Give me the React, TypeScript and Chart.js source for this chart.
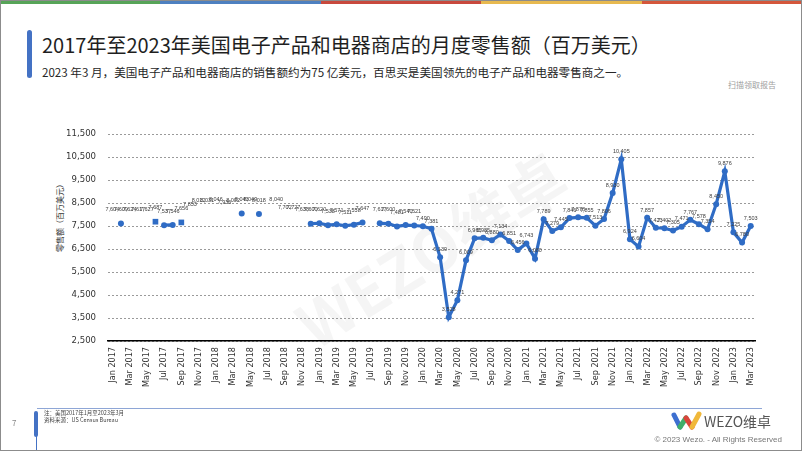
import React, { useEffect, useRef } from "react";
import { Chart, registerables } from "chart.js";

Chart.register(...registerables);

// ---------- data ----------
const monthNames = ["Jan", "Feb", "Mar", "Apr", "May", "Jun", "Jul", "Aug", "Sep", "Oct", "Nov", "Dec"];
const startYear = 2017;
const monthCount = 75; // Jan 2017 .. Mar 2023
const categories: string[] = Array.from(
  { length: monthCount },
  (_, i) => `${monthNames[i % 12]} ${startYear + Math.floor(i / 12)}`
);

// Monthly retail sales, electronics & appliance stores (million USD)
const salesValues: (number | null)[] = [
  // 2017
  7604, 7609, 7624, 7617, 7627, 7687, 7537, 7546, 7656, 7853, 8012, 8031,
  // 2018
  8046, 7936, 8002, 8043, 8049, 8018, null, 8040, 7702, 7727, 7638, 7600,
  // 2019
  7620, 7538, 7571, 7511, 7558, 7647, null, 7617, 7600, 7481, 7540, 7521,
  // 2020
  7490, 7381, 6139, 3528, 4271, 6009, 6965, 6985, 6880, 7134, 6851, 6456,
  // 2021
  6743, 6080, 7789, 7279, 7445, 7846, 7878, 7855, 7513, 7806, 8930, 10405,
  // 2022
  6924, 6604, 7857, 7423, 7402, 7305, 7471, 7767, 7578, 7354, 8450, 9876,
  // 2023
  7225, 6780, 7503,
];

// months whose value only shows as a data label (no marker, no line)
const labelOnlyMonths = [0, 2, 3, 4, 9, 10, 11, 12, 13, 14, 16, 19, 20, 21, 22];
// months shown as a square marker without connecting line
const squareMonths = [5, 8];

const yMin = 2500;
const yMax = 11500;
const yStep = 1000;

const LINE_COLOR = "#2f6cc5";

const valueLabelPlugin = {
  id: "valueLabels",
  afterDatasetsDraw(chart: any) {
    const meta = chart.getDatasetMeta(0);
    const ctx = chart.ctx;
    ctx.save();
    ctx.font = '5.5px "Liberation Sans", Arial, sans-serif';
    ctx.fillStyle = "#404040";
    ctx.textAlign = "center";
    ctx.textBaseline = "bottom";
    meta.data.forEach((pt: any, i: number) => {
      const v = salesValues[i];
      if (v == null) return;
      const off = i < 36 ? 11 : 5;
      ctx.fillText(v.toLocaleString("en-US"), pt.x, pt.y - off);
    });
    ctx.restore();
  },
};

export default function App() {
  const canvasRef = useRef<HTMLCanvasElement>(null);

  useEffect(() => {
    const noLine = (i: number) => labelOnlyMonths.includes(i) || squareMonths.includes(i);
    const chart = new Chart(canvasRef.current as HTMLCanvasElement, {
      type: "line",
      data: {
        labels: categories,
        datasets: [
          {
            data: salesValues,
            borderColor: LINE_COLOR,
            backgroundColor: LINE_COLOR,
            borderWidth: 3.2,
            pointRadius: salesValues.map((_, i) =>
              labelOnlyMonths.includes(i) ? 0 : squareMonths.includes(i) ? 4 : 3
            ),
            pointStyle: salesValues.map((_, i) => (squareMonths.includes(i) ? "rect" : "circle")) as any,
            pointBackgroundColor: LINE_COLOR,
            pointBorderColor: LINE_COLOR,
            pointBorderWidth: 0,
            tension: 0,
            spanGaps: false,
            segment: {
              borderColor: (ctx: any) =>
                noLine(ctx.p0DataIndex) || noLine(ctx.p1DataIndex) ? "rgba(0,0,0,0)" : LINE_COLOR,
            },
          },
        ],
      },
      options: {
        responsive: false,
        animation: false,
        devicePixelRatio: 1,
        layout: { padding: { left: 0, top: 134, right: 47, bottom: 50 } },
        plugins: { legend: { display: false }, tooltip: { enabled: false }, title: { display: false } },
        scales: {
          x: {
            type: "category",
            offset: true,
            grid: { display: false, drawTicks: false },
            border: { display: true, color: "#000000", width: 1.5 },
            ticks: {
              autoSkip: false,
              maxRotation: 90,
              minRotation: 90,
              padding: 6,
              color: "#333333",
              font: { family: '"DejaVu Sans Condensed", "DejaVu Sans", sans-serif', size: 9 },
              callback: (_v: any, i: number) => (i % 2 === 0 ? categories[i] : ""),
            },
            afterFit: (scale: any) => {
              scale.height = 60;
            },
          },
          y: {
            min: yMin,
            max: yMax,
            grid: { color: "#9a9a9a", lineWidth: 1, drawTicks: false },
            border: { display: false, dash: [2, 2] },
            ticks: {
              stepSize: yStep,
              padding: 12,
              color: "#333333",
              font: { family: '"DejaVu Sans Condensed", "DejaVu Sans", sans-serif', size: 9.5 },
              callback: (v: any) => Number(v).toLocaleString("en-US"),
            },
            afterFit: (scale: any) => {
              scale.width = 108;
            },
          },
        },
      },
      plugins: [valueLabelPlugin],
    } as any);
    return () => chart.destroy();
  }, []);

  const cjk = '"Noto Sans CJK SC", "Noto Sans", sans-serif';
  const barColors = ["#57a458", "#4e80c0", "#c8493d", "#e7b94f", "#d4573b"];

  return (
    <div
      style={{
        position: "fixed",
        left: 0,
        top: 0,
        width: 802,
        height: 451,
        background: "#ffffff",
        overflow: "hidden",
        fontFamily: cjk,
      }}
    >
      {/* top colour bar */}
      {barColors.map((c, i) => (
        <div
          key={c}
          style={{ position: "absolute", top: 0, left: i * 160.4, width: 160.4, height: 4, background: c }}
        />
      ))}

      {/* title */}
      <div
        style={{ position: "absolute", left: 27, top: 30, width: 5, height: 48, borderRadius: 3, background: "#4472c4" }}
      />
      <div
        style={{
          position: "absolute",
          left: 42,
          top: 32,
          fontSize: 20,
          lineHeight: "26px",
          color: "#1f1f1f",
          whiteSpace: "nowrap",
        }}
      >
        2017年至2023年美国电子产品和电器商店的月度零售额（百万美元）
      </div>
      <div
        style={{
          position: "absolute",
          left: 42,
          top: 64,
          fontSize: 11.6,
          lineHeight: "16px",
          color: "#262626",
          whiteSpace: "nowrap",
        }}
      >
        2023 年3 月，美国电子产品和电器商店的销售额约为75 亿美元，百思买是美国领先的电子产品和电器零售商之一。
      </div>
      <div
        style={{ position: "absolute", right: 26, top: 79, fontSize: 8, lineHeight: "12px", color: "#a0a0a0" }}
      >
        扫描领取报告
      </div>

      {/* watermark */}
      <div
        style={{
          position: "absolute",
          left: 430,
          top: 248,
          transform: "translate(-50%, -50%) rotate(-32deg)",
          fontSize: 62,
          fontWeight: 700,
          color: "rgba(0,0,0,0.04)",
          whiteSpace: "nowrap",
          fontFamily: '"Noto Sans CJK SC", sans-serif',
        }}
      >
        WEZO维卓
      </div>

      {/* y-axis title */}
      <div
        style={{
          position: "absolute",
          left: 60,
          top: 216,
          transform: "translate(-50%, -50%) rotate(-90deg)",
          fontSize: 8,
          lineHeight: "10px",
          color: "#333",
          whiteSpace: "nowrap",
        }}
      >
        零售额（百万美元）
      </div>

      <canvas
        ref={canvasRef}
        width={802}
        height={451}
        style={{ position: "absolute", left: 0, top: 0, width: 802, height: 451 }}
      />

      {/* footer */}
      <div style={{ position: "absolute", left: 37, top: 408, width: 725, height: 1, background: "#8ea6d6" }} />
      <div
        style={{ position: "absolute", left: 34, top: 411, width: 4, height: 26, borderRadius: 2, background: "#4472c4" }}
      />
      <div style={{ position: "absolute", left: 35.5, top: 436, width: 1, height: 15, background: "#4472c4" }} />
      <div style={{ position: "absolute", left: 12, top: 417, fontSize: 8, color: "#888" }}>7</div>
      <div
        style={{
          position: "absolute",
          left: 44,
          top: 410,
          fontSize: 5.5,
          lineHeight: "7px",
          color: "#444",
          whiteSpace: "nowrap",
        }}
      >
        <div>注：美国2017年1月至2023年3月</div>
        <div>资料来源：US Census Bureau</div>
      </div>

      <svg
        style={{ position: "absolute", left: 671, top: 410 }}
        width={32}
        height={22}
        viewBox="0 0 32 22"
      >
        <path d="M3 5 L9 17" stroke="#3d6fd0" strokeWidth={5} strokeLinecap="round" fill="none" />
        <path d="M9 17 L15 8" stroke="#3fae6a" strokeWidth={5} strokeLinecap="round" fill="none" />
        <path d="M15 8 L21 17" stroke="#d9453b" strokeWidth={5} strokeLinecap="round" fill="none" />
        <path d="M21 17 L28 4" stroke="#f0b83a" strokeWidth={5} strokeLinecap="round" fill="none" />
      </svg>
      <div
        style={{
          position: "absolute",
          left: 704,
          top: 411,
          fontSize: 14,
          lineHeight: "20px",
          color: "#555",
          whiteSpace: "nowrap",
        }}
      >
        WEZO维卓
      </div>
      <div
        style={{
          position: "absolute",
          right: 20,
          top: 435,
          fontSize: 8,
          lineHeight: "10px",
          color: "#777",
          whiteSpace: "nowrap",
          fontFamily: '"Liberation Sans", Arial, sans-serif',
        }}
      >
        © 2023 Wezo. - All Rights Reserved
      </div>

      {/* slide border */}
      <div
        style={{
          position: "absolute",
          left: 0,
          top: 0,
          width: 802,
          height: 451,
          boxSizing: "border-box",
          border: "1px solid #8c8c8c",
          pointerEvents: "none",
        }}
      />
    </div>
  );
}
